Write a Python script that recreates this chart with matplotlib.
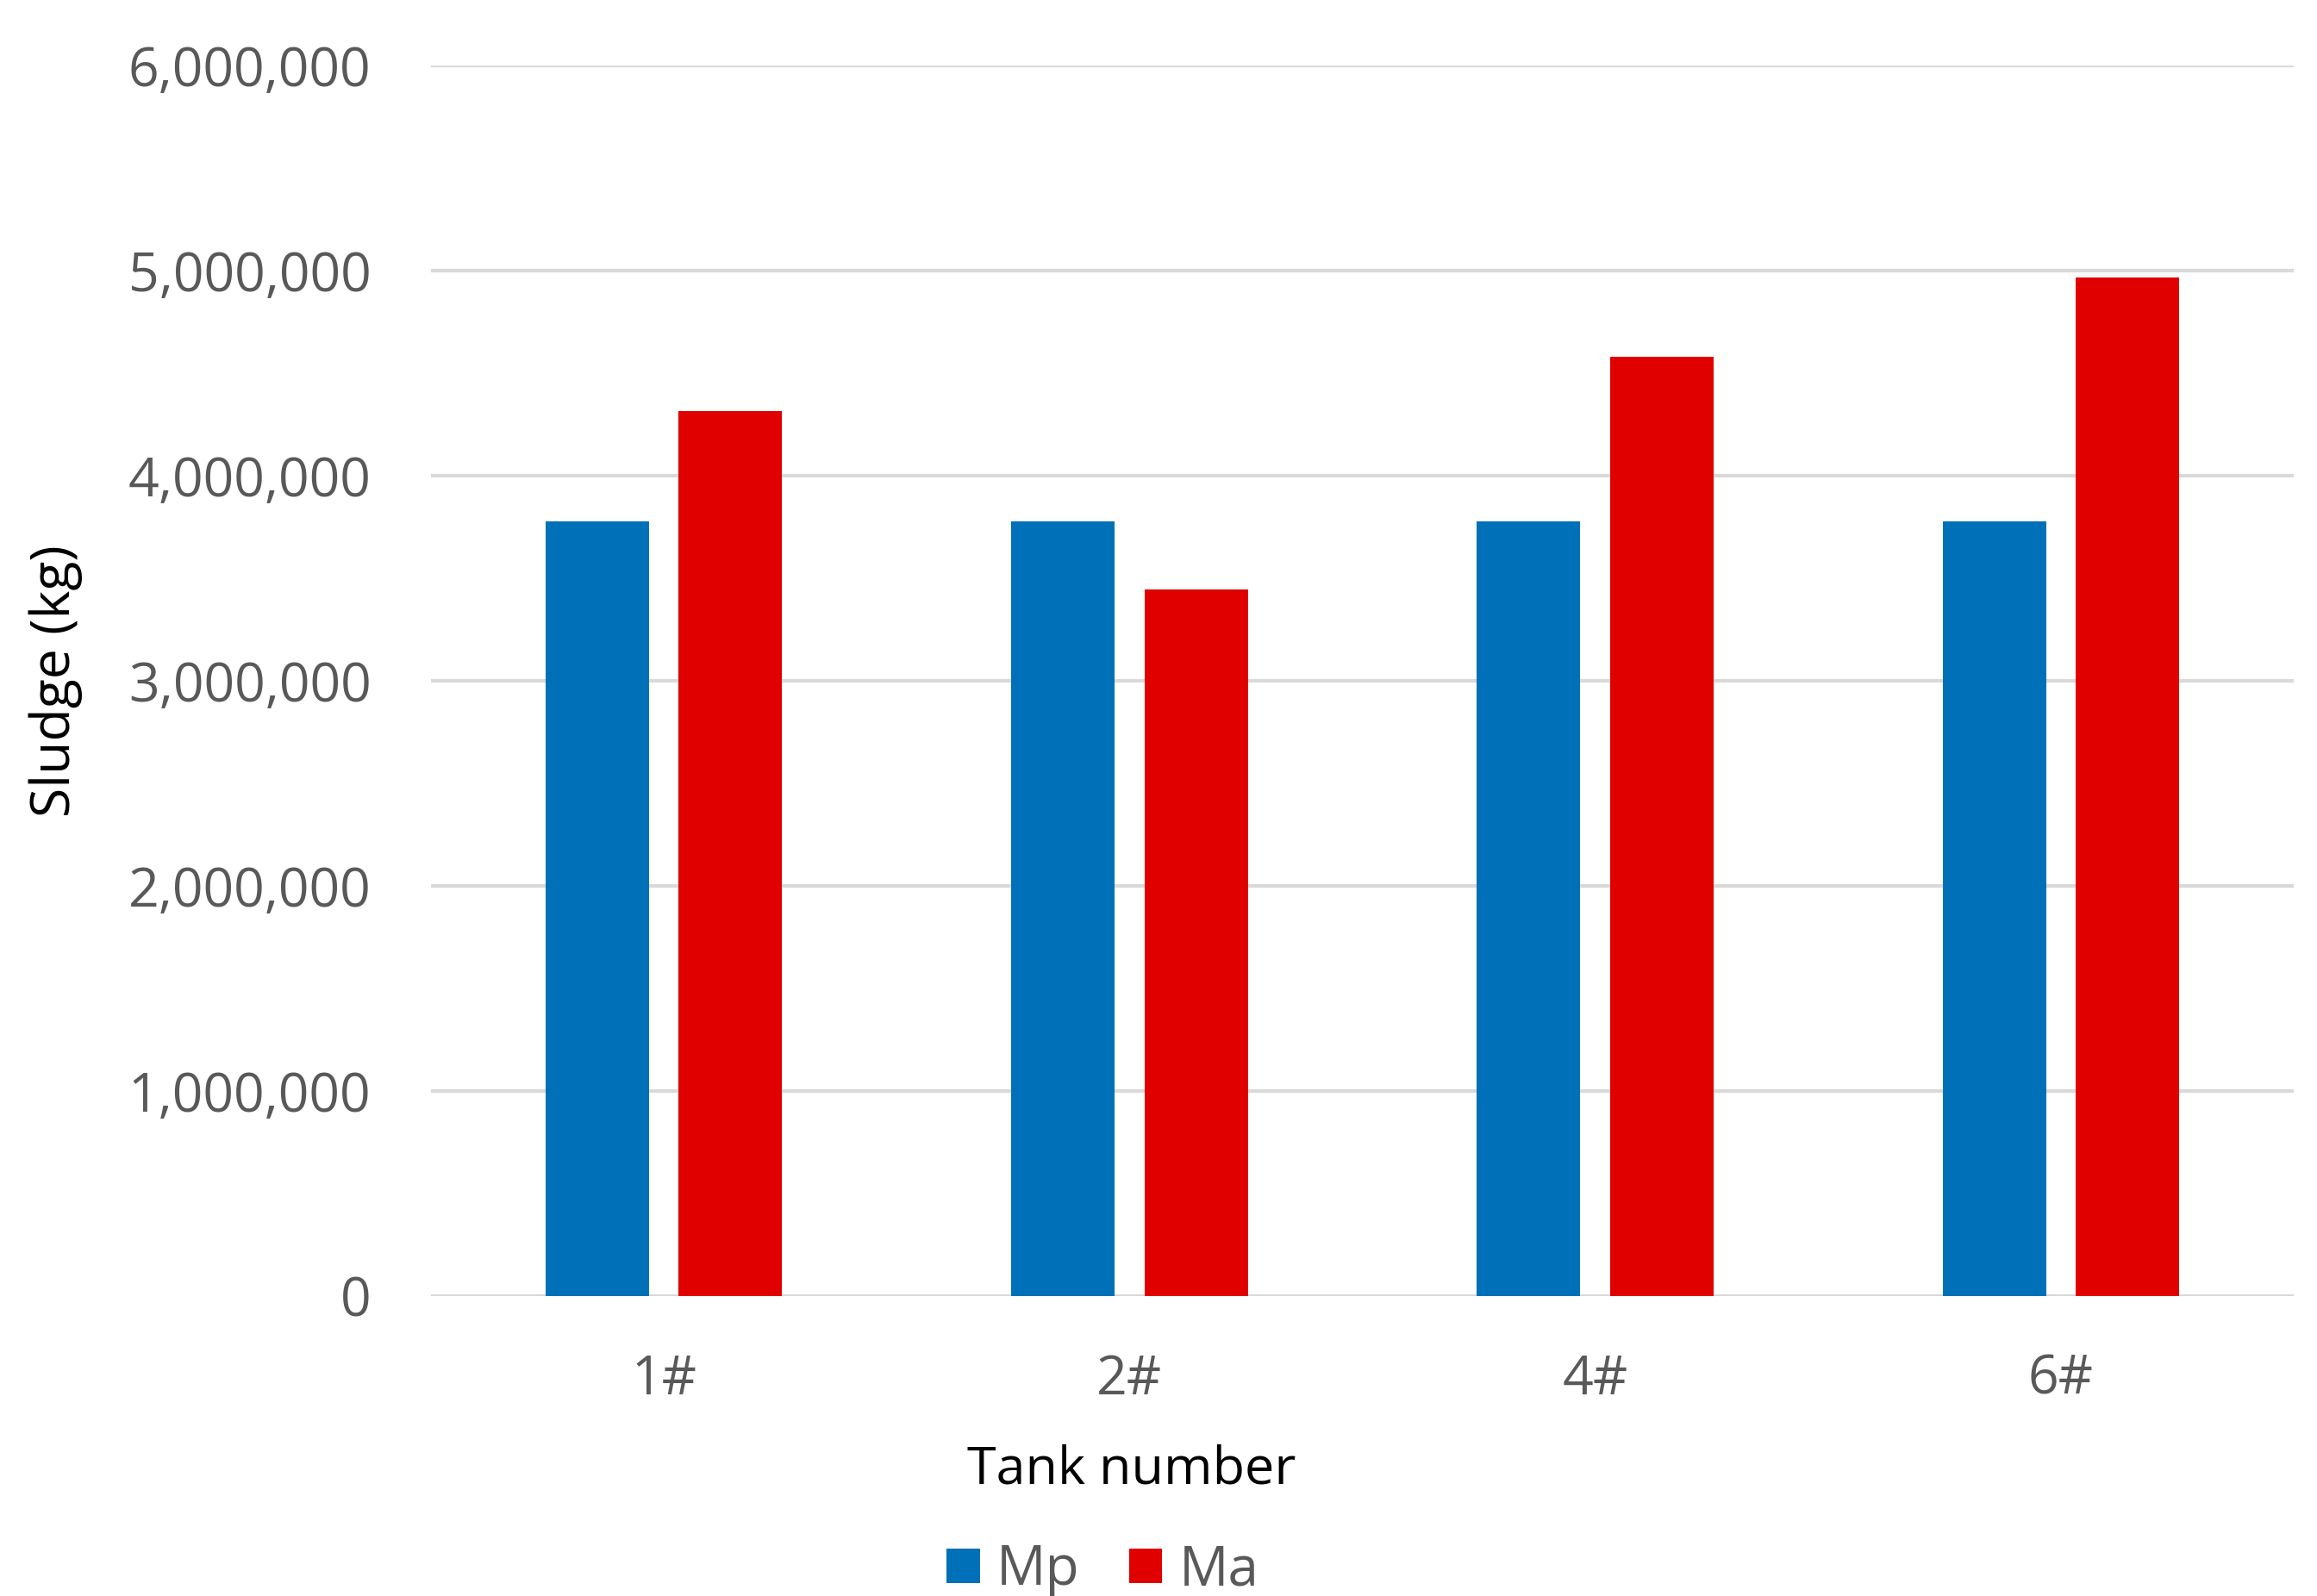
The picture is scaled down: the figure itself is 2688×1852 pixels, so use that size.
import numpy as np
import matplotlib
matplotlib.use("Agg")
import matplotlib.pyplot as plt
from matplotlib.ticker import FuncFormatter

# Sludge per tank
tanks = ["1#", "2#", "4#", "6#"]
mp_values = [3775000, 3775000, 3775000, 3775000]
ma_values = [4315000, 3445000, 4580000, 4965000]

plt.rcParams['font.family'] = ['Open Sans', 'DejaVu Sans']

fig = plt.figure(figsize=(26.88, 18.52), dpi=100)
ax = fig.add_axes([0.186, 0.188, 0.804, 0.771])

x = np.arange(len(tanks))
width = 0.222
gap = 0.064
ax.bar(x - (width + gap) / 2, mp_values, width, color='#0070b8', label='Mp', zorder=3)
ax.bar(x + (width + gap) / 2, ma_values, width, color='#e00000', label='Ma', zorder=3)

ax.set_ylim(0, 6000000)
ax.set_xlim(-0.5, len(tanks) - 0.5)
ax.set_yticks(np.arange(0, 6000001, 1000000))
ax.yaxis.set_major_formatter(FuncFormatter(lambda v, p: f"{int(v):,}"))
ax.set_xticks(x)
ax.set_xticklabels(tanks)

ax.grid(axis='y', color='#d9d9d9', linewidth=3, zorder=0)
for s in ['top', 'right', 'left', 'bottom']:
    ax.spines[s].set_visible(False)
ax.tick_params(axis='both', length=0, labelsize=45, labelcolor='#595959')
ax.tick_params(axis='y', pad=50)
ax.tick_params(axis='x', pad=48)

ax.set_xlabel('Tank number', fontsize=44, color='black')
ax.xaxis.set_label_coords(0.376, -0.12)
ax.set_ylabel('Sludge (kg)', fontsize=45, color='black')
ax.yaxis.set_label_coords(-0.187, 0.5)

leg = fig.legend(loc='center', bbox_to_anchor=(0.476, 0.016), ncol=2, frameon=False,
                 fontsize=46, handlelength=0.6, handleheight=0.6, handletextpad=0.3,
                 columnspacing=0.9)
for t in leg.get_texts():
    t.set_color('#595959')

fig.savefig('out.png', dpi=100, facecolor='white')
